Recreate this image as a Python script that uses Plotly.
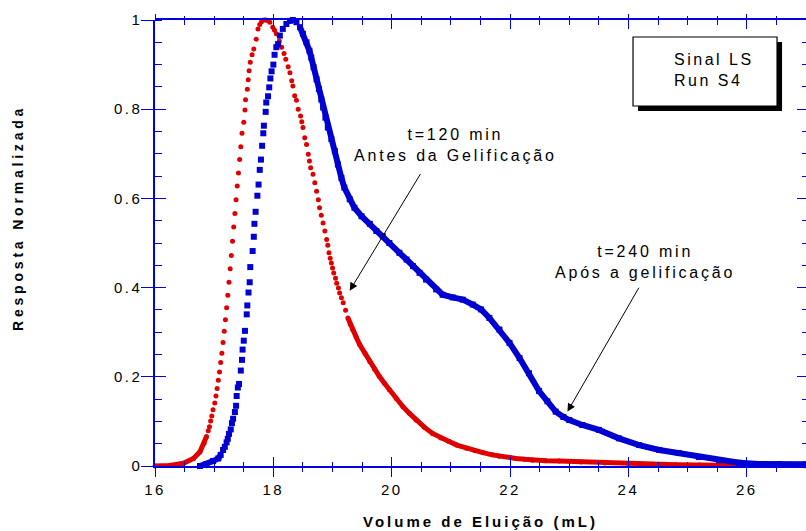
import plotly.graph_objects as go

# ---------------- data ----------------
red_x = [16.0, 16.25, 16.48, 16.65, 16.76, 16.83, 16.87, 16.90, 16.92, 16.94, 16.96, 16.98,
         17.01, 17.03, 17.05, 17.07, 17.09, 17.11, 17.13, 17.15, 17.17, 17.19, 17.21, 17.23,
         17.25, 17.27, 17.29, 17.31, 17.33, 17.35, 17.37, 17.39, 17.41, 17.43, 17.45, 17.47,
         17.50, 17.52, 17.53, 17.56, 17.575, 17.59, 17.61, 17.64, 17.67, 17.71, 17.74, 17.77,
         17.80, 17.84, 17.87, 17.90, 17.94, 17.99, 18.02, 18.05, 18.10, 18.14, 18.18, 18.21,
         18.25, 18.28, 18.31, 18.33, 18.36, 18.39, 18.42, 18.46, 18.48, 18.50, 18.53, 18.56,
         18.59, 18.61, 18.63, 18.67, 18.70, 18.73, 18.76, 18.78, 18.81, 18.84, 18.87, 18.90,
         18.92, 18.94, 18.96, 18.98, 19.00, 19.02, 19.05, 19.07, 19.10, 19.12, 19.15, 19.18,
         19.22, 19.26, 19.30, 19.34, 19.40, 19.46, 19.55, 19.63, 19.71, 19.79, 19.88, 19.96,
         20.08, 20.19, 20.30, 20.41, 20.55, 20.69, 20.83, 20.97, 21.10, 21.26, 21.40, 21.54,
         21.70, 21.82, 22.00, 22.10, 22.25, 22.38, 22.60, 22.83, 23.20, 23.60, 24.00, 24.40,
         24.80, 25.20, 25.60, 26.00, 26.50, 27.00]
red_y = [0.0, 0.001, 0.006, 0.017, 0.032, 0.051, 0.066, 0.079, 0.088, 0.101, 0.112, 0.126,
         0.141, 0.157, 0.174, 0.192, 0.211, 0.232, 0.253, 0.277, 0.302, 0.328, 0.355, 0.383,
         0.412, 0.442, 0.472, 0.504, 0.536, 0.566, 0.597, 0.628, 0.657, 0.687, 0.716, 0.746,
         0.771, 0.798, 0.821, 0.845, 0.866, 0.886, 0.905, 0.922, 0.935, 0.957, 0.980, 0.990,
         0.996, 1.0, 1.0, 0.999, 0.995, 0.984, 0.977, 0.969, 0.953, 0.939, 0.925, 0.912,
         0.895, 0.882, 0.864, 0.852, 0.830, 0.820, 0.800, 0.785, 0.772, 0.759, 0.736, 0.721,
         0.699, 0.684, 0.669, 0.654, 0.635, 0.616, 0.597, 0.579, 0.562, 0.545, 0.527, 0.508,
         0.495, 0.478, 0.466, 0.455, 0.444, 0.433, 0.421, 0.410, 0.399, 0.388, 0.377, 0.366,
         0.349, 0.332, 0.318, 0.306, 0.289, 0.272, 0.252, 0.234, 0.217, 0.201, 0.185, 0.171,
         0.151, 0.133, 0.118, 0.103, 0.087, 0.073, 0.063, 0.055, 0.047, 0.040, 0.035, 0.030,
         0.025, 0.022, 0.019, 0.017, 0.015, 0.013, 0.012, 0.011, 0.009, 0.007, 0.0055, 0.004,
         0.003, 0.002, 0.0015, 0.001, 0.0005, 0.0]

blue_x = [16.76, 16.87, 16.98, 17.07, 17.11, 17.15, 17.18, 17.21, 17.23, 17.25, 17.28, 17.30,
          17.32, 17.35, 17.37, 17.38, 17.40, 17.42, 17.45, 17.47, 17.48, 17.50, 17.52, 17.55,
          17.56, 17.58, 17.60, 17.61, 17.65, 17.67, 17.68, 17.70, 17.73, 17.75, 17.77, 17.79,
          17.81, 17.83, 17.84, 17.87, 17.88, 17.91, 17.93, 17.95, 17.97, 18.00, 18.02, 18.05,
          18.08, 18.11, 18.16, 18.22, 18.28, 18.33, 18.39, 18.45, 18.50, 18.56, 18.61, 18.64,
          18.68, 18.73, 18.77, 18.81, 18.84, 18.88, 18.92, 18.98, 19.04, 19.09, 19.15, 19.20,
          19.29, 19.37, 19.49, 19.63, 19.74, 19.85, 19.96, 20.13, 20.25, 20.36, 20.47, 20.58,
          20.75, 20.86, 21.03, 21.20, 21.37, 21.51, 21.65, 21.82, 21.99, 22.16, 22.32, 22.49,
          22.63, 22.77, 22.90, 23.00, 23.22, 23.50, 23.84, 24.18, 24.52, 24.85, 25.19, 25.53,
          25.87, 26.20, 26.54, 27.00]
blue_y = [0.0, 0.0045, 0.011, 0.017, 0.025, 0.036, 0.043, 0.053, 0.061, 0.072, 0.082, 0.096,
          0.106, 0.121, 0.135, 0.157, 0.176, 0.184, 0.214, 0.238, 0.261, 0.281, 0.303, 0.340,
          0.360, 0.389, 0.412, 0.446, 0.482, 0.514, 0.543, 0.570, 0.606, 0.631, 0.664, 0.687,
          0.718, 0.746, 0.763, 0.794, 0.815, 0.829, 0.849, 0.869, 0.885, 0.900, 0.922, 0.939,
          0.946, 0.965, 0.980, 0.991, 0.998, 1.0, 0.995, 0.984, 0.969, 0.950, 0.931, 0.916,
          0.894, 0.867, 0.845, 0.822, 0.804, 0.781, 0.759, 0.733, 0.706, 0.676, 0.646, 0.624,
          0.598, 0.579, 0.560, 0.543, 0.527, 0.515, 0.500, 0.478, 0.463, 0.448, 0.433, 0.418,
          0.396, 0.384, 0.378, 0.373, 0.362, 0.351, 0.332, 0.306, 0.276, 0.242, 0.208, 0.168,
          0.145, 0.122, 0.110, 0.103, 0.092, 0.081, 0.062, 0.047, 0.036, 0.029, 0.020, 0.013,
          0.0075, 0.0045, 0.0045, 0.004]

x_tick_vals = [16, 18, 20, 22, 24, 26]
x_tick_text = ["16", "18", "20", "22", "24", "26"]
y_tick_vals = [0, 0.2, 0.4, 0.6, 0.8, 1.0]
y_tick_text = ["0", "0.2", "0.4", "0.6", "0.8", "1"]

x_title = "Volume de Eluição (mL)"
y_title = "Resposta Normalizada"
box_text = ["Sinal LS", "Run S4"]
note1 = ["t=120 min", "Antes da Gelificação"]
note2 = ["t=240 min", "Após a gelificação"]

# ---------------- style ----------------
RED = "#e00000"
BLUE = "#0000d2"
AX = "#0000e6"
FONT = "Liberation Sans, Arial, sans-serif"
XR = [16, 27]
YR = [0, 1]


def sp(t, s=2.5):
    return f"<span style='letter-spacing:{s}px'>{t}</span>"


def solid_part(xs, ys, lo, hi):
    return [y if (x <= lo or x >= hi) else None for x, y in zip(xs, ys)]


fig = go.Figure()

fig.add_trace(go.Scatter(x=red_x, y=solid_part(red_x, red_y, 16.87, 19.26), mode="lines",
                         line=dict(color=RED, width=5), connectgaps=False,
                         cliponaxis=False, hoverinfo="skip"))
fig.add_trace(go.Scatter(x=red_x, y=red_y, mode="markers",
                         marker=dict(symbol="circle", size=5, color=RED, line=dict(width=0)),
                         cliponaxis=False))
fig.add_trace(go.Scatter(x=blue_x, y=solid_part(blue_x, blue_y, 17.11, 18.45), mode="lines",
                         line=dict(color=BLUE, width=6), connectgaps=False,
                         cliponaxis=False, hoverinfo="skip"))
fig.add_trace(go.Scatter(x=blue_x, y=blue_y, mode="markers",
                         marker=dict(symbol="square", size=6, color=BLUE, line=dict(width=0)),
                         cliponaxis=False))

# empty helper subplots that only carry extra tick sets (crossing / inner ticks)
for k in (2, 3, 4):
    fig.add_trace(go.Scatter(x=[], y=[], xaxis=f"x{k}", yaxis=f"y{k}", mode="markers",
                             hoverinfo="skip", showlegend=False))

tickfont = dict(family=FONT, size=15, color="black")
base = dict(showgrid=False, zeroline=False, tickcolor=AX, tickwidth=1.2,
            domain=[0, 1], fixedrange=True)


def minor(step, t0, where, ln):
    return dict(tickmode="linear", tick0=t0, dtick=step, ticks=where, ticklen=ln,
                tickcolor=AX, tickwidth=1.2, showgrid=False)


fig.update_layout(
    template="none",
    width=806, height=531,
    margin=dict(l=155, r=0, t=20, b=65),
    paper_bgcolor="white", plot_bgcolor="rgba(0,0,0,0)",
    showlegend=False,
    # main axes: labels, outer halves of the crossing ticks
    xaxis=dict(range=XR, anchor="y", side="bottom", tickmode="array",
               tickvals=x_tick_vals, ticktext=[sp(t) for t in x_tick_text],
               ticks="outside", ticklen=9, showline=True, linecolor=AX, linewidth=1.5,
               tickfont=tickfont, minor=minor(0.5, 16, "outside", 4), **base),
    yaxis=dict(range=YR, anchor="x", side="left", tickmode="array",
               tickvals=y_tick_vals, ticktext=[sp(t) for t in y_tick_text],
               ticks="outside", ticklen=12, showline=True, linecolor=AX, linewidth=1.5,
               tickfont=tickfont, ticklabelstandoff=-4,
               minor=minor(0.05, 0, "inside", 7), **base),
    # inner halves of bottom/left ticks
    xaxis2=dict(range=XR, anchor="y2", side="bottom", tickmode="array",
                tickvals=x_tick_vals, ticks="inside", ticklen=9, showticklabels=False,
                showline=False, minor=minor(0.5, 16, "inside", 4), **base),
    yaxis2=dict(range=YR, anchor="x2", side="left", tickmode="array",
                tickvals=y_tick_vals, ticks="inside", ticklen=11, showticklabels=False,
                showline=False, **base),
    # top and right frame with inner ticks
    xaxis3=dict(range=XR, anchor="y3", side="top", tickmode="array",
                tickvals=x_tick_vals, ticks="inside", ticklen=9, showticklabels=False,
                showline=True, linecolor=AX, linewidth=1.5,
                minor=minor(0.5, 16, "inside", 5), **base),
    yaxis3=dict(range=YR, anchor="x3", side="right", tickmode="array",
                tickvals=y_tick_vals, ticks="inside", ticklen=9, showticklabels=False,
                showline=True, linecolor=AX, linewidth=1.5,
                minor=minor(0.05, 0, "inside", 4), **base),
    # outer halves of top ticks
    xaxis4=dict(range=XR, anchor="y4", side="top", tickmode="array",
                tickvals=x_tick_vals, ticks="outside", ticklen=5, showticklabels=False,
                showline=False, minor=minor(0.5, 16, "outside", 3), **base),
    yaxis4=dict(range=YR, anchor="x4", side="left", showticklabels=False, ticks="",
                showline=False, **base),
)

# legend-like box with drop shadow
fig.add_shape(type="rect", xref="paper", yref="paper", x0=0.7420, x1=0.9632,
              y0=0.7960, y1=0.9507, fillcolor="black", line=dict(width=0), layer="above")
fig.add_shape(type="rect", xref="paper", yref="paper", x0=0.7343, x1=0.9555,
              y0=0.8072, y1=0.9619, fillcolor="white", line=dict(color="black", width=1.2),
              layer="above")
fig.add_annotation(xref="paper", yref="paper", x=0.794, y=0.889, xanchor="left",
                   yanchor="middle", align="left", showarrow=False,
                   text="<br>".join(sp(t) for t in box_text),
                   font=dict(family=FONT, size=16, color="black"))

fig.add_annotation(x=21.08, y=0.719, xref="x", yref="y", showarrow=False, align="center",
                   text="<br>".join(sp(t, 2.8) for t in note1),
                   font=dict(family=FONT, size=16, color="black"))
fig.add_annotation(x=24.28, y=0.458, xref="x", yref="y", showarrow=False, align="center",
                   text="<br>".join(sp(t, 2.8) for t in note2),
                   font=dict(family=FONT, size=16, color="black"))

fig.add_annotation(x=19.29, y=0.393, ax=20.50, ay=0.658, xref="x", yref="y", axref="x",
                   ayref="y", text="", showarrow=True, arrowhead=2, arrowsize=1.6,
                   arrowwidth=1, arrowcolor="black")
fig.add_annotation(x=22.97, y=0.122, ax=24.19, ay=0.403, xref="x", yref="y", axref="x",
                   ayref="y", text="", showarrow=True, arrowhead=2, arrowsize=1.6,
                   arrowwidth=1, arrowcolor="black")

fig.add_annotation(xref="paper", yref="paper", x=0.5, y=0, yshift=-55, yanchor="middle",
                   showarrow=False, text="<b>" + sp(x_title, 3) + "</b>",
                   font=dict(family=FONT, size=15, color="black"))
fig.add_annotation(xref="paper", yref="paper", x=0, xshift=-136.5, y=0.555,
                   xanchor="center", yanchor="middle", textangle=-90, showarrow=False,
                   text="<b>" + sp(y_title, 3.8) + "</b>",
                   font=dict(family=FONT, size=14, color="black"))

fig.write_html("out.html")
